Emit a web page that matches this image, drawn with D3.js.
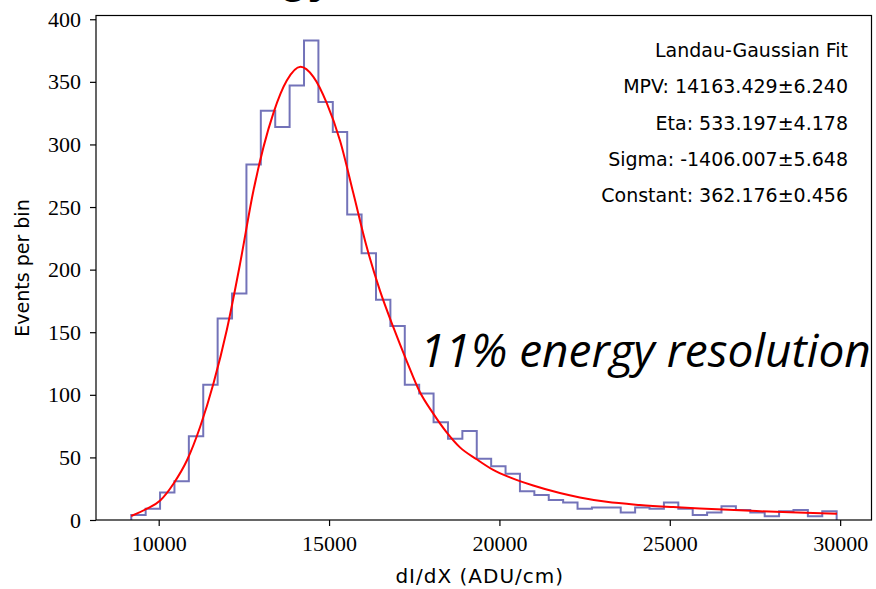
<!DOCTYPE html>
<html>
<head>
<meta charset="utf-8">
<script src="https://cdn.jsdelivr.net/npm/d3@7"></script>
<style>
  body { margin: 0; background: #fff; }
  #chart svg { display: block; }
</style>
</head>
<body>
<div id="chart"></div>
<script>
// histogram: 49 bins of equal width starting at binStart
var binStart = 9195;
var binWidth = 422.5;
var binCounts = [4, 9, 22, 31, 67, 108, 161, 181, 284, 327,
  314, 347, 383, 334, 310, 244, 213, 176, 155, 108,
  101, 78, 65, 71, 49, 43, 37, 23, 20, 16,
  14, 9, 10, 10, 6, 10, 9, 14, 9, 4,
  6, 11, 8, 6, 3, 7, 8, 3, 7];

// fit curve
var fitX = [9194, 9654, 10044, 10434, 10827, 11217, 11607, 12000, 12390, 12780,
  13366, 13760, 14163, 14540, 14933, 15323, 15713, 16106, 16496, 16886,
  17279, 17669, 18059, 18452, 18842, 19331, 19818, 20308, 20991, 21774,
  22361, 23144, 24120, 25097, 25880, 26563, 27543, 28519, 29906];
var fitY = [3.2, 9, 15.6, 29, 47.5, 74.5, 109, 152, 205, 263,
  325, 351, 362, 354, 333, 303, 261, 218, 183, 154,
  127, 102, 85, 70, 58, 48.5, 40, 34, 27.5, 21.5,
  18, 14.5, 12, 10.3, 9.2, 8.3, 7.1, 6.1, 5];

var xTicks = [10000, 15000, 20000, 25000, 30000];
var yTicks = [0, 50, 100, 150, 200, 250, 300, 350, 400];

var fitLabels = [
  "Landau-Gaussian Fit",
  "MPV: 14163.429\u00b16.240",
  "Eta: 533.197\u00b14.178",
  "Sigma: -1406.007\u00b15.648",
  "Constant: 362.176\u00b10.456"
];

var W = 876, H = 589;
var margin = { top: 15.5, right: 4.5, bottom: 69, left: 96 };
var width = W - margin.left - margin.right,
  height = H - margin.top - margin.bottom;

var serif = "'Liberation Serif', 'DejaVu Serif', serif";
var sans = "'DejaVu Sans', sans-serif";

var svg = d3.select("#chart").append("svg")
  .attr("width", W)
  .attr("height", H);

// clipped heading from above the plot
svg.append("text")
  .attr("x", 333)
  .attr("y", -8)
  .attr("text-anchor", "end")
  .style("font-family", "'Liberation Sans', Arial, sans-serif")
  .style("font-weight", "bold")
  .style("font-size", "46px")
  .text("Energy");

var g = svg.append("g")
  .attr("transform", "translate(" + margin.left + "," + margin.top + ")");

var x = d3.scaleLinear().domain([8160, 30920]).range([0, width]);
var y = d3.scaleLinear().domain([0, 403]).range([height, 0]);

// step outline of the histogram
var steps = [[binStart, 0]];
binCounts.forEach(function (c, i) {
  steps.push([binStart + i * binWidth, c]);
  steps.push([binStart + (i + 1) * binWidth, c]);
});
steps.push([binStart + binCounts.length * binWidth, 0]);

g.append("path")
  .datum(steps)
  .attr("fill", "none")
  .attr("stroke", "#000080")
  .attr("stroke-opacity", 0.55)
  .attr("stroke-width", 2)
  .attr("d", d3.line()
    .x(function (d) { return x(d[0]); })
    .y(function (d) { return y(d[1]); }));

// fit line
var fit = fitX.map(function (v, i) { return [v, fitY[i]]; });
g.append("path")
  .datum(fit)
  .attr("fill", "none")
  .attr("stroke", "#ff0000")
  .attr("stroke-width", 2)
  .attr("d", d3.line()
    .curve(d3.curveMonotoneX)
    .x(function (d) { return x(d[0]); })
    .y(function (d) { return y(d[1]); }));

// frame
g.append("rect")
  .attr("width", width)
  .attr("height", height)
  .attr("fill", "none")
  .attr("stroke", "#000")
  .attr("stroke-width", 1.2);

var xAxis = g.append("g")
  .attr("transform", "translate(0," + height + ")")
  .call(d3.axisBottom(x).tickValues(xTicks).tickSize(6).tickPadding(9)
    .tickFormat(d3.format("d")));
var yAxis = g.append("g")
  .call(d3.axisLeft(y).tickValues(yTicks).tickSize(6).tickPadding(9)
    .tickFormat(d3.format("d")));

[xAxis, yAxis].forEach(function (a) {
  a.select(".domain").remove();
  a.selectAll(".tick line").attr("stroke", "#000").attr("stroke-width", 1.2);
  a.selectAll(".tick text")
    .attr("fill", "#000")
    .style("font-family", serif)
    .style("font-size", "22px");
});

// axis names
svg.append("text")
  .attr("x", margin.left + width / 2 - 4)
  .attr("y", 583)
  .attr("text-anchor", "middle")
  .style("font-family", sans)
  .style("font-size", "20px")
  .style("letter-spacing", "1px")
  .text("dI/dX (ADU/cm)");

svg.append("text")
  .attr("transform", "translate(29,268) rotate(-90)")
  .attr("text-anchor", "middle")
  .style("font-family", sans)
  .style("font-size", "19px")
  .text("Events per bin");

// fit parameters box
g.selectAll(".fitlabel")
  .data(fitLabels)
  .enter()
  .append("text")
  .attr("class", "fitlabel")
  .attr("x", 848 - margin.left)
  .attr("y", function (d, i) { return 57 - margin.top + i * 36.3; })
  .attr("text-anchor", "end")
  .style("font-family", sans)
  .style("font-size", "19px")
  .text(function (d) { return d; });

// overlaid annotation
svg.append("text")
  .attr("x", 420)
  .attr("y", 367)
  .style("font-family", "'Open Sans', sans-serif")
  .style("font-style", "italic")
  .style("font-size", "46px")
  .text("11% energy resolution");
</script>
</body>
</html>
